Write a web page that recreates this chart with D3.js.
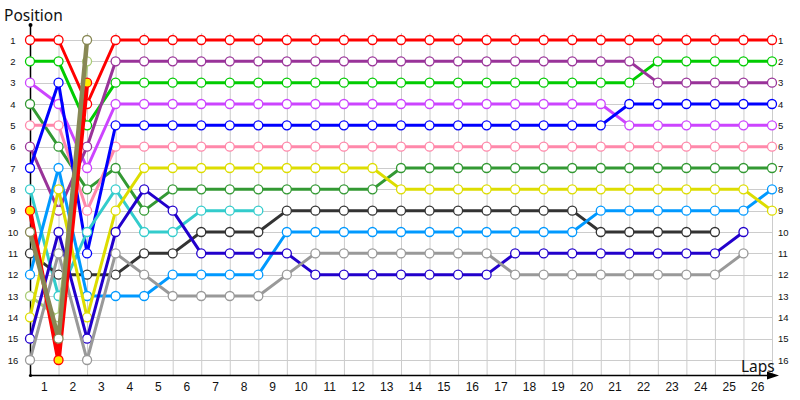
<!DOCTYPE html>
<html><head><meta charset="utf-8">
<script src="https://cdn.jsdelivr.net/npm/d3@7"></script>
<style>
body{margin:0;background:#fff;}
svg{display:block;font-family:"Noto Sans",Arial,sans-serif;}
</style></head>
<body><svg id="c" width="800" height="400"></svg>
<script>
const lapLabels = ["1","2","3","4","5","6","7","8","9","10","11","12","13","14","15","16","17","18","19","20","21","22","23","24","25","26"];
const positions = [1,2,3,4,5,6,7,8,9,10,11,12,13,14,15,16];
const _ = null;
// position at each lap mark (start, then after each lap); null = out of race
const seriesNames = ["red","green","violet","darkgreen","pink","purple","blue","cyan","redyellow","olive","darkgray","lightblue","lightgreen","yellow","navy","gray"];
const red       = [1,1,4,1,1,1,1,1,1,1,1,1,1,1,1,1,1,1,1,1,1,1,1,1,1,1,1];
const green     = [2,2,5,3,3,3,3,3,3,3,3,3,3,3,3,3,3,3,3,3,3,3,2,2,2,2,2];
const violet    = [3,4,7,4,4,4,4,4,4,4,4,4,4,4,4,4,4,4,4,4,4,5,5,5,5,5,5];
const darkgreen = [4,6,8,7,9,8,8,8,8,8,8,8,8,7,7,7,7,7,7,7,7,7,7,7,7,7,7];
const pink      = [5,5,9,6,6,6,6,6,6,6,6,6,6,6,6,6,6,6,6,6,6,6,6,6,6,6,6];
const purple    = [6,9,6,2,2,2,2,2,2,2,2,2,2,2,2,2,2,2,2,2,2,2,3,3,3,3,3];
const blue      = [7,3,11,5,5,5,5,5,5,5,5,5,5,5,5,5,5,5,5,5,5,4,4,4,4,4,4];
const cyan      = [8,13,10,8,10,10,9,9,9,_,_,_,_,_,_,_,_,_,_,_,_,_,_,_,_,_,_];
const redyellow = [9,16,3,_,_,_,_,_,_,_,_,_,_,_,_,_,_,_,_,_,_,_,_,_,_,_,_];
const olive     = [10,15,1,_,_,_,_,_,_,_,_,_,_,_,_,_,_,_,_,_,_,_,_,_,_,_,_];
const darkgray  = [11,12,12,12,11,11,10,10,10,9,9,9,9,9,9,9,9,9,9,9,10,10,10,10,10,_,_];
const lightblue = [12,7,13,13,13,12,12,12,12,10,10,10,10,10,10,10,10,10,10,10,9,9,9,9,9,9,8];
const lightgreen= [13,14,2,_,_,_,_,_,_,_,_,_,_,_,_,_,_,_,_,_,_,_,_,_,_,_,_];
const yellow    = [14,8,14,9,7,7,7,7,7,7,7,7,7,8,8,8,8,8,8,8,8,8,8,8,8,8,9];
const navy      = [15,10,15,10,8,9,11,11,11,11,12,12,12,12,12,12,12,11,11,11,11,11,11,11,11,10,_];
const gray      = [16,11,16,11,12,13,13,13,13,12,11,11,11,11,11,11,11,12,12,12,12,12,12,12,12,11,_];

const styles = {
  red:{stroke:"#ff0000",fill:"#ffffff",w:3},
  green:{stroke:"#00cc00",fill:"#ffffff",w:3},
  violet:{stroke:"#cc44ff",fill:"#ffffff",w:3},
  darkgreen:{stroke:"#339933",fill:"#ffffff",w:3},
  pink:{stroke:"#ff88aa",fill:"#ffffff",w:3},
  purple:{stroke:"#993399",fill:"#ffffff",w:3},
  blue:{stroke:"#0000ff",fill:"#ffffff",w:3},
  cyan:{stroke:"#33cccc",fill:"#ffffff",w:3},
  redyellow:{stroke:"#ff0000",fill:"#ffee00",w:4.5},
  olive:{stroke:"#888855",fill:"#ffffff",w:4.5},
  darkgray:{stroke:"#333333",fill:"#ffffff",w:3},
  lightblue:{stroke:"#0099ff",fill:"#ffffff",w:3},
  lightgreen:{stroke:"#aacc77",fill:"#ffffff",w:3},
  yellow:{stroke:"#dddd00",fill:"#ffffff",w:3},
  navy:{stroke:"#2200cc",fill:"#ffffff",w:3},
  gray:{stroke:"#999999",fill:"#ffffff",w:3}
};
const dataMap = {red,green,violet,darkgreen,pink,purple,blue,cyan,redyellow,olive,darkgray,lightblue,lightgreen,yellow,navy,gray};
const drawOrder = ["red","green","violet","darkgreen","pink","purple","blue","cyan","darkgray","lightblue","lightgreen","yellow","navy","gray","redyellow","olive"];

const svg = d3.select("#c");
const x = d3.scaleLinear().domain([0,26]).range([30,772]);
const y = d3.scaleLinear().domain([1,16]).range([40,360]);

// grid
const grid = svg.append("g").attr("stroke","#cccccc").attr("stroke-width",1);
grid.selectAll("line.v").data(d3.range(0,27)).join("line")
  .attr("x1",d=>x(d)+0.5).attr("x2",d=>x(d)+0.5).attr("y1",33).attr("y2",375);
grid.selectAll("line.h").data(positions).join("line")
  .attr("x1",30).attr("x2",772).attr("y1",d=>Math.round(y(d))+0.5).attr("y2",d=>Math.round(y(d))+0.5);

// axes lines
svg.append("line").attr("x1",30.5).attr("x2",30.5).attr("y1",25).attr("y2",375).attr("stroke","#000").attr("stroke-width",1.5);
svg.append("circle").attr("cx",30.5).attr("cy",25).attr("r",2).attr("fill","#000");
svg.append("circle").attr("cx",30.5).attr("cy",375.5).attr("r",1.6).attr("fill","#000");
svg.append("line").attr("x1",30).attr("x2",770).attr("y1",375.5).attr("y2",375.5).attr("stroke","#000").attr("stroke-width",1.5);
svg.append("path").attr("d","M767,371.5 L779,375.5 L767,379.5 Z").attr("fill","#000");

// y labels left and right via axes
const yL = svg.append("g").attr("transform","translate(19,0)")
  .call(d3.axisLeft(y).tickValues(positions).tickSize(0).tickPadding(0).tickFormat(d3.format("d")));
yL.select(".domain").remove();
yL.selectAll("text").attr("font-size",9.5).attr("fill","#111").attr("text-anchor","middle").attr("dx",-6)
  .attr("font-family","Liberation Sans, sans-serif");
const yR = svg.append("g").attr("transform","translate(778,0)")
  .call(d3.axisRight(y).tickValues(positions).tickSize(0).tickPadding(0).tickFormat(d3.format("d")));
yR.select(".domain").remove();
yR.selectAll("text").attr("font-size",9.5).attr("fill","#111").attr("font-family","Liberation Sans, sans-serif");

// x labels
const xb = d3.scaleBand().domain(lapLabels).range([x(0),x(26)]);
const xa = svg.append("g").attr("transform","translate(0,382)")
  .call(d3.axisBottom(xb).tickSize(0).tickPadding(0));
xa.select(".domain").remove();
xa.selectAll("text").attr("font-size",12).attr("fill","#111").attr("font-family","Liberation Sans, sans-serif");

// titles
svg.append("text").attr("x",4).attr("y",21).attr("font-size",15.5).attr("fill","#111")
  .attr("font-family","Noto Sans, sans-serif").text("Position");
svg.append("text").attr("x",741).attr("y",372).attr("font-size",15.5).attr("fill","#111")
  .attr("font-family","Noto Sans, sans-serif").text("Laps");

// series
const line = d3.line().defined(d=>d!=null).x((d,i)=>x(i)).y(d=>y(d));
drawOrder.forEach(name=>{
  const vals = dataMap[name], st = styles[name];
  const g = svg.append("g");
  g.append("path").attr("d",line(vals)).attr("fill","none").attr("stroke",st.stroke)
    .attr("stroke-width",st.w).attr("stroke-linejoin","round");
  g.selectAll("circle").data(vals.map((v,i)=>({v,i})).filter(d=>d.v!=null)).join("circle")
    .attr("cx",d=>x(d.i)).attr("cy",d=>y(d.v)).attr("r",4.5)
    .attr("fill",st.fill).attr("stroke",st.stroke).attr("stroke-width",1.3);
});
</script></body></html>
